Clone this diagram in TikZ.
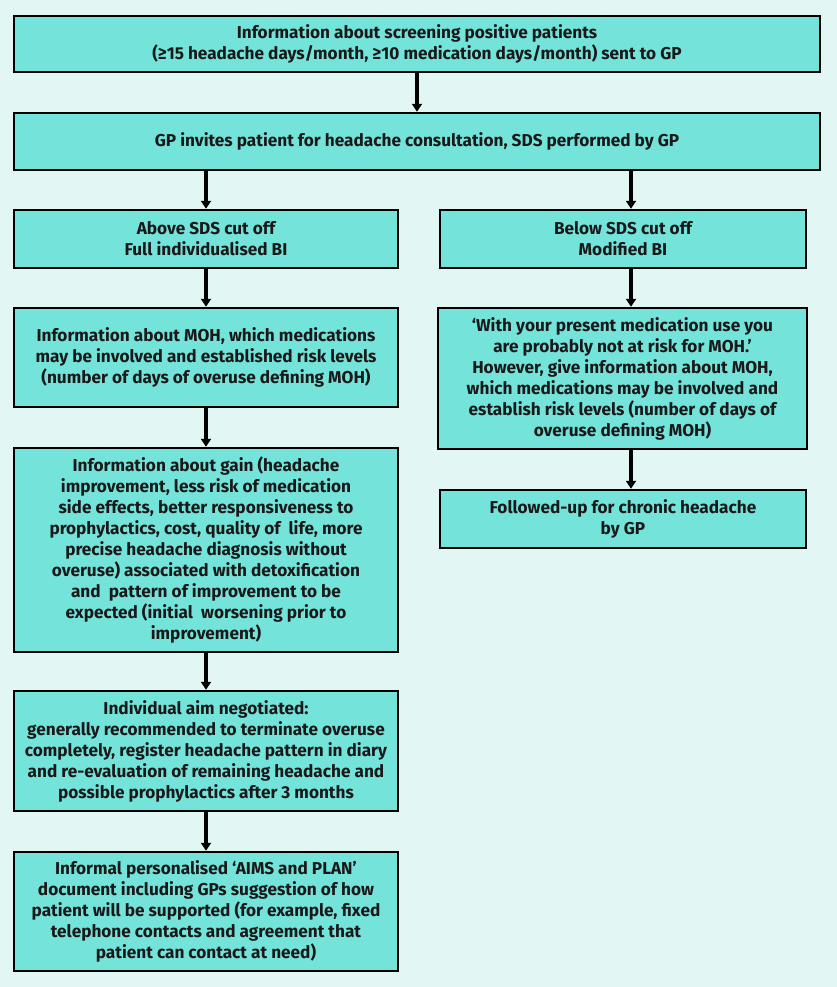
\documentclass[tikz,border=0pt]{standalone}
\usepackage{fontspec}
\setmainfont{Fira Sans}
\usetikzlibrary{arrows.meta}
\definecolor{bgc}{HTML}{E2F7F4}
\definecolor{boxc}{HTML}{74E3DA}
\begin{document}
\begin{tikzpicture}[x=1pt,y=-1pt,
  box/.style={draw=black, line width=2.4pt, fill=boxc, align=center, inner sep=0pt,
    font=\fontsize{17.2}{21}\selectfont\bfseries, text=black!90},
  arr/.style={line width=3.2pt, -{Triangle[width=10pt,length=8pt]}}]
\fill[bgc] (0,0) rectangle (837,987);
\useasboundingbox (0,0) rectangle (837,987);
\node[box, minimum width=806pt, minimum height=56pt] (b1) at (417,44)
  {Information about screening positive patients\\(≥15 headache days/month, ≥10 medication days/month) sent to GP};
\node[box, minimum width=806pt, minimum height=57pt] (b2) at (417,141.5)
  {GP invites patient for headache consultation, SDS performed by GP};
\node[box, minimum width=384pt, minimum height=58pt] (b3l) at (206,239)
  {Above SDS cut off\\Full individualised BI};
\node[box, minimum width=366pt, minimum height=58pt] (b3r) at (623,239)
  {Below SDS cut off\\Modified BI};
\node[box, minimum width=384pt, minimum height=99pt] (b4l) at (206,357.5)
  {Information about MOH, which medications\\may be involved and established risk levels\\(number of days of overuse defining MOH)};
\node[box, minimum width=369pt, minimum height=141pt] (b4r) at (622.5,378.5)
  {‘With your present medication use you\\are probably not at risk for MOH.’\\However, give information about MOH,\\which medications may be involved and\\establish risk levels (number of days of\\overuse defining MOH)};
\node[box, minimum width=366pt, minimum height=58pt] (b5r) at (623,519)
  {Followed-up for chronic headache\\by GP};
\node[box, minimum width=384pt, minimum height=204pt] (b5l) at (206,550)
  {Information about gain (headache\\improvement, less risk of medication\\side effects, better responsiveness to\\prophylactics, cost, quality of\ \ life, more\\precise headache diagnosis without\\overuse) associated with detoxification\\and\ \ pattern of improvement to be\\expected (initial\ \ worsening prior to\\improvement)};
\node[box, minimum width=384pt, minimum height=120pt] (b6l) at (206,751)
  {Individual aim negotiated:\\generally recommended to terminate overuse\\completely, register headache pattern in diary\\and re-evaluation of remaining headache and\\possible prophylactics after 3 months};
\node[box, minimum width=384pt, minimum height=119pt] (b7l) at (206,911.5)
  {Informal personalised ‘AIMS and PLAN’\\document including GPs suggestion of how\\patient will be supported (for example, fixed\\telephone contacts and agreement that\\patient can contact at need)};
\coordinate (rx) at (631,0);
\draw[arr] (b1.south) -- (b2.north);
\draw[arr] (b2.south -| b3l.north) -- (b3l.north);
\draw[arr] (b2.south -| rx) -- (b3r.north -| rx);
\draw[arr] (b3l) -- (b4l);
\draw[arr] (b3r.south -| rx) -- (b4r.north -| rx);
\draw[arr] (b4r.south -| rx) -- (b5r.north -| rx);
\draw[arr] (b4l) -- (b5l);
\draw[arr] (b5l) -- (b6l);
\draw[arr] (b6l) -- (b7l);
\end{tikzpicture}
\end{document}
